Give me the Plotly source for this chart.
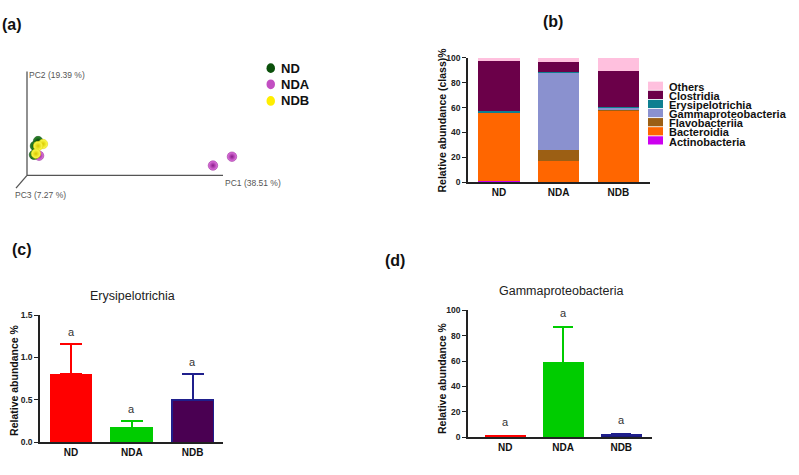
import numpy as np
import plotly.graph_objects as go

# ---------------- data ----------------
groups = ["ND", "NDA", "NDB"]

# (a) PCoA scores (normalised to axis length)
pc_labels = ["PC1 (38.51 %)", "PC2 (19.39 %)", "PC3 (7.27 %)"]
nd_pc1 = [0.079, 0.063, 0.058]
nd_pc2 = [0.379, 0.332, 0.247]
nd_pc3 = [0.4, 0.4, 0.4]
nda_pc1 = [0.084, 0.960, 1.057]
nda_pc2 = [0.238, 0.119, 0.204]
nda_pc3 = [0.4, 0.2, 0.2]
ndb_pc1 = [0.104, 0.079, 0.068]
ndb_pc2 = [0.351, 0.332, 0.257]
ndb_pc3 = [0.4, 0.4, 0.4]

# (b) class-level relative abundance (%)
classes = ["Actinobacteria", "Bacteroidia", "Flavobacteriia", "Gammaproteobacteria",
           "Erysipelotrichia", "Clostridia", "Others"]
abund_ND = [0.8, 55.0, 0.2, 0.5, 0.8, 40.3, 2.4]
abund_NDA = [0.1, 17.2, 8.4, 62.6, 0.2, 8.4, 3.1]
abund_NDB = [0.2, 57.7, 0.3, 1.8, 0.5, 28.8, 10.7]

# (c) Erysipelotrichia
ery_mean = [0.80, 0.17, 0.50]
ery_err = [0.36, 0.085, 0.30]
ery_sig = ["a", "a", "a"]

# (d) Gammaproteobacteria
gam_mean = [1.0, 58.5, 2.0]
gam_err = [0.3, 28.2, 1.0]
gam_sig = ["a", "a", "a"]

# ---------------- styling ----------------
W, H = 799, 475
FONT = "Arial, Liberation Sans, sans-serif"
class_colors = ["#cc00ee", "#ff6600", "#9c5f14", "#8a91cf", "#0e7f90", "#6b0049", "#ffc0de"]
bar_fill = ["#ff0000", "#00cc00", "#4a0052"]
bar_line = ["#ff0000", "#00cc00", "#1f1f8c"]
gam_fill = ["#ff0000", "#00cc00", "#1a1a78"]
err_col = ["#ff0000", "#00cc00", "#1f1f8c"]
pc_colors = {"ND": ("#2f8f2f", "#063d06"), "NDA": ("#e47ae4", "#8a1a8a"), "NDB": ("#ffff55", "#d8c800")}


def px(x):
    return x / W


def py(y):
    return 1 - y / H


fig = go.Figure()

# ---------------- (a) PCoA, oblique projection ----------------
origin = np.array([27.0, H - 174.0])
e1 = np.array([196.0, 0.0])
e2 = np.array([0.0, 106.0])
e3 = np.array([-11.0, -13.0])


def project(p1, p2, p3):
    p1, p2, p3 = map(np.asarray, (p1, p2, p3))
    xy = origin[None, :] + p1[:, None] * e1 + p2[:, None] * e2 + p3[:, None] * e3
    return xy[:, 0], xy[:, 1]


for e in (e1, e2, e3):
    end = origin + e
    fig.add_trace(go.Scatter(x=[origin[0], end[0]], y=[origin[1], end[1]], mode="lines",
                             line=dict(color="#555555", width=1.3), xaxis="x", yaxis="y",
                             showlegend=False, hoverinfo="skip"))

for name, p1, p2, p3 in [("NDA", nda_pc1, nda_pc2, nda_pc3),
                         ("ND", nd_pc1, nd_pc2, nd_pc3),
                         ("NDB", ndb_pc1, ndb_pc2, ndb_pc3)]:
    xs, ys = project(p1, p2, p3)
    c, g = pc_colors[name]
    fig.add_trace(go.Scatter(x=xs, y=ys, mode="markers", name=name, xaxis="x", yaxis="y",
                             marker=dict(size=9.5, color=c,
                                         gradient=dict(type="radial", color=g),
                                         line=dict(width=0.5, color=g)),
                             showlegend=False))

annotations = []
shapes = []
e1_end, e2_end, e3_end = origin + e1, origin + e2, origin + e3
annotations += [
    dict(x=e1_end[0], y=e1_end[1], xref="x", yref="y", text=pc_labels[0], showarrow=False,
         xanchor="left", yanchor="top", yshift=-1, font=dict(family=FONT, size=8.5, color="#555")),
    dict(x=e2_end[0], y=e2_end[1], xref="x", yref="y", text=pc_labels[1], showarrow=False,
         xanchor="left", yanchor="middle", yshift=-3, font=dict(family=FONT, size=8.5, color="#555")),
    dict(x=e3_end[0], y=e3_end[1], xref="x", yref="y", text=pc_labels[2], showarrow=False,
         xanchor="left", yanchor="top", xshift=-3, font=dict(family=FONT, size=8.5, color="#555")),
]

# legend (a)
leg_a_y = [64.5, 81, 98]
for name, yc in zip(groups, leg_a_y):
    fill = {"ND": "#0b500b", "NDA": "#c24fc2", "NDB": "#ffee00"}[name]
    shapes.append(dict(type="circle", xref="paper", yref="paper", x0=px(266.5), x1=px(275),
                       y0=py(yc + 5), y1=py(yc - 5), fillcolor=fill, line=dict(width=0)))
    annotations.append(dict(x=px(279), y=py(yc), xref="paper", yref="paper", text="<b>%s</b>" % name,
                            showarrow=False, xanchor="left", yanchor="middle",
                            font=dict(family=FONT, size=13, color="#111")))

# ---------------- (b) stacked bars ----------------
abund = np.array([abund_ND, abund_NDA, abund_NDB])
for i, cls in enumerate(classes):
    fig.add_trace(go.Bar(x=groups, y=abund[:, i], name=cls, xaxis="x2", yaxis="y2",
                         marker=dict(color=class_colors[i], line=dict(width=0)),
                         width=0.69, showlegend=False))

# legend (b)
sw_top, sw_h = 78.0, 9.3
for k, cls in enumerate(reversed(classes)):
    col = class_colors[len(classes) - 1 - k]
    y0 = sw_top + k * sw_h
    shapes.append(dict(type="rect", xref="paper", yref="paper", x0=px(648), x1=px(663),
                       y0=py(y0 + sw_h - 0.6), y1=py(y0 + 0.3), fillcolor=col, line=dict(width=0)))
    annotations.append(dict(x=px(667), y=py(y0 + sw_h / 2 + 1.0), xref="paper", yref="paper",
                            text="<b>%s</b>" % cls, showarrow=False, xanchor="left", yanchor="middle",
                            font=dict(family=FONT, size=11, color="#111")))

# ---------------- (c) Erysipelotrichia ----------------
for i, g in enumerate(groups):
    fig.add_trace(go.Bar(x=[g], y=[ery_mean[i]], xaxis="x3", yaxis="y3", width=0.68,
                         marker=dict(color=bar_fill[i], line=dict(color=bar_line[i], width=1.5)),
                         error_y=dict(type="data", array=[ery_err[i]], arrayminus=[0], symmetric=False,
                                      color=err_col[i], thickness=2, width=11),
                         showlegend=False))
    annotations.append(dict(x=g, y=ery_mean[i] + ery_err[i], xref="x3", yref="y3", text=ery_sig[i],
                            showarrow=False, yanchor="middle", yshift=12,
                            font=dict(family=FONT, size=11, color="#333")))

# ---------------- (d) Gammaproteobacteria ----------------
for i, g in enumerate(groups):
    fig.add_trace(go.Bar(x=[g], y=[gam_mean[i]], xaxis="x4", yaxis="y4", width=0.68,
                         marker=dict(color=gam_fill[i], line=dict(color=bar_line[i], width=1.5)),
                         error_y=dict(type="data", array=[gam_err[i]], arrayminus=[0], symmetric=False,
                                      color=err_col[i], thickness=2, width=10),
                         showlegend=False))
    annotations.append(dict(x=g, y=gam_mean[i] + gam_err[i], xref="x4", yref="y4", text=gam_sig[i],
                            showarrow=False, yanchor="middle", yshift=14,
                            font=dict(family=FONT, size=11, color="#333")))


# titles / axis titles / panel labels
def ann(x, y, text, size, angle=0, color="#111", bold=True):
    annotations.append(dict(x=px(x), y=py(y), xref="paper", yref="paper",
                            text=("<b>%s</b>" % text) if bold else text, showarrow=False,
                            xanchor="center", yanchor="middle", textangle=angle,
                            font=dict(family=FONT, size=size, color=color)))


ann(442, 118, "Relative abundance (class)%", 10.5, -90)
ann(14, 383, "Relative abundance %", 10.5, -90)
ann(442, 381, "Relative abundance %", 10.5, -90)
ann(132, 297, "Erysipelotrichia", 12.5, 0, "#222", False)
ann(561, 292, "Gammaproteobacteria", 12.5, 0, "#222", False)
ann(12, 20, "(a)", 16)
ann(553, 17, "(b)", 16)
ann(22, 249.5, "(c)", 16)
ann(395, 261, "(d)", 16)

axis_common = dict(showline=True, linecolor="#222", linewidth=1.5, showgrid=False, zeroline=False,
                   tickfont=dict(family=FONT, size=8.5, color="#222"))
cat_axis = dict(axis_common, type="category", ticks="", tickfont=dict(family=FONT, size=10, color="#111"))
num_axis = dict(axis_common, ticks="outside", ticklen=4, tickwidth=1.3, tickcolor="#222",
                tickprefix="<b>", ticksuffix="</b>")

fig.update_layout(
    width=W, height=H, margin=dict(l=0, r=0, t=0, b=0),
    paper_bgcolor="white", plot_bgcolor="white", barmode="stack", showlegend=False,
    xaxis=dict(domain=[0, px(300)], range=[0, 300], visible=False, fixedrange=True),
    yaxis=dict(domain=[py(200), py(40)], range=[H - 200, H - 40], visible=False, fixedrange=True),
    xaxis2=dict(cat_axis, domain=[px(468), px(650)], range=[-0.52, 2.53], anchor="y2",
                tickprefix="<b>", ticksuffix="</b>"),
    yaxis2=dict(num_axis, domain=[py(181), py(54)], range=[0, 100], dtick=20, anchor="x2"),
    xaxis3=dict(cat_axis, domain=[px(40), px(223)], range=[-0.51, 2.5], anchor="y3",
                tickprefix="<b>", ticksuffix="</b>"),
    yaxis3=dict(num_axis, domain=[py(446.7), py(316.7)], range=[0, 1.5], dtick=0.5,
                tickformat=".1f", anchor="x3"),
    xaxis4=dict(cat_axis, domain=[px(468), px(652)], range=[-0.64, 2.53], anchor="y4",
                tickprefix="<b>", ticksuffix="</b>"),
    yaxis4=dict(num_axis, domain=[py(441.7), py(311.7)], range=[0, 100], dtick=20, anchor="x4"),
    annotations=annotations, shapes=shapes,
)

fig.write_html("out.html", config={"displayModeBar": False},
               post_script="document.body.style.margin='0';document.body.style.overflow='hidden';")
